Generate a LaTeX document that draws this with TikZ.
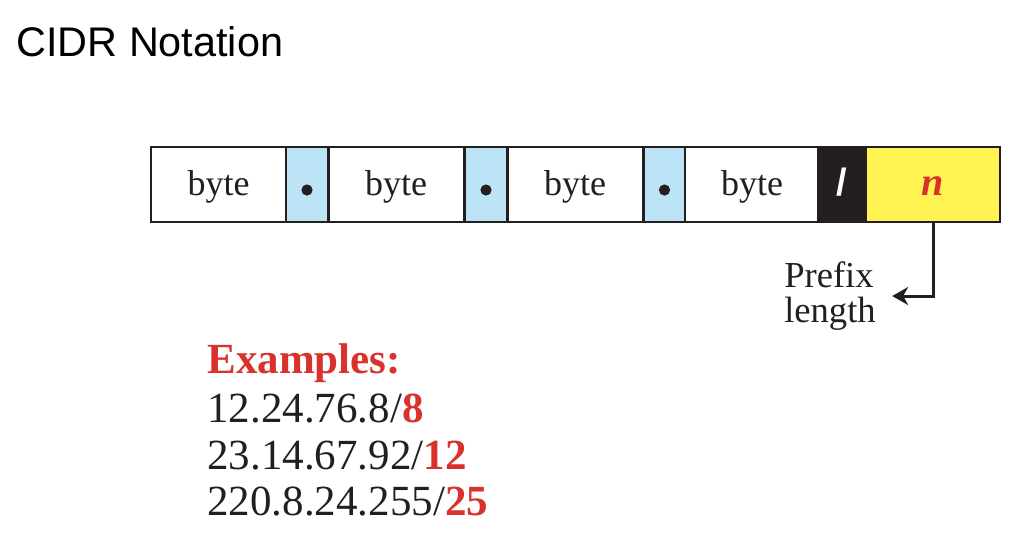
\documentclass[tikz,border=0pt]{standalone}
\usepackage{fontspec}
\setmainfont{Liberation Serif}
\newfontfamily\titlefont{Liberation Sans}
\usetikzlibrary{arrows.meta}
\definecolor{cidrblue}{HTML}{BDE3F7}
\definecolor{cidryellow}{HTML}{FFF352}
\definecolor{cidrred}{HTML}{D9312B}
\definecolor{cidrink}{HTML}{231F20}
\tikzset{
  cell/.style={draw=cidrink, line width=1pt, minimum height=37.5pt,
    inner sep=0pt, outer sep=0pt, text height=13pt, text depth=2.5pt,
    text=cidrink, font=\fontsize{18}{20}\selectfont},
  bytecell/.style={cell, fill=white, minimum width=67.5pt},
  dotcell/.style={cell, fill=cidrblue, minimum width=21pt},
  slashcell/.style={cell, fill=cidrink, text=white, minimum width=24pt,
    font=\titlefont\bfseries\fontsize{19}{20}\selectfont},
  ncell/.style={cell, fill=cidryellow, text=cidrred, minimum width=67pt,
    font=\bfseries\itshape\fontsize{20}{22}\selectfont},
  note/.style={align=left, inner xsep=8pt, inner ysep=0pt, text=cidrink,
    font=\fontsize{18.3}{17.2}\selectfont},
  exline/.style={anchor=base west, inner sep=0pt, text=cidrink,
    font=\fontsize{21.5}{24}\selectfont},
  pointer/.style={draw=cidrink, line width=1.5pt,
    -{Stealth[length=8pt,width=9pt,inset=2.5pt]}},
}
\newcommand{\red}[1]{\textcolor{cidrred}{\textbf{#1}}}
\begin{document}
\begin{tikzpicture}[x=0.5pt,y=-0.5pt]
\useasboundingbox (0,0) rectangle (1028,538);
%
% titulo
\node[anchor=base west, inner sep=0pt,
  font=\titlefont\fontsize{20.7}{24}\selectfont] (tit) at (16,56) {CIDR Notation};
%
% celdas: byte . byte . byte . byte / n
\node[bytecell] (b1) at (218.5,184.5) {byte};
\node[dotcell] (d1) at (307,184.5) {};
\node[bytecell] (b2) at (396,184.5) {byte};
\node[dotcell] (d2) at (486,184.5) {};
\node[bytecell] (b3) at (575,184.5) {byte};
\node[dotcell] (d3) at (664.5,184.5) {};
\node[bytecell] (b4) at (752,184.5) {byte};
\node[slashcell] (s) at (842,184.5) {/};
\node[ncell] (n) at (933,184.5) {n};
%
% puntos
\fill[cidrink] (d1) ++(0,5.5) circle (2.8pt);
\fill[cidrink] (d2) ++(0,5.5) circle (2.8pt);
\fill[cidrink] (d3) ++(0,5.5) circle (2.8pt);
%
% longitud del prefijo
\node[note] (pl) at (830,296) {Prefix\\length};
\draw[pointer] (n.south) |- (pl.east);
%
% ejemplos
\node[exline] (e0) at (207,373) {\red{Examples:}};
\node[exline] (e1) at (207,422) {12.24.76.8/\red{8}};
\node[exline] (e2) at (207,469) {23.14.67.92/\red{12}};
\node[exline] (e3) at (207,515) {220.8.24.255/\red{25}};
%
\end{tikzpicture}
\end{document}
